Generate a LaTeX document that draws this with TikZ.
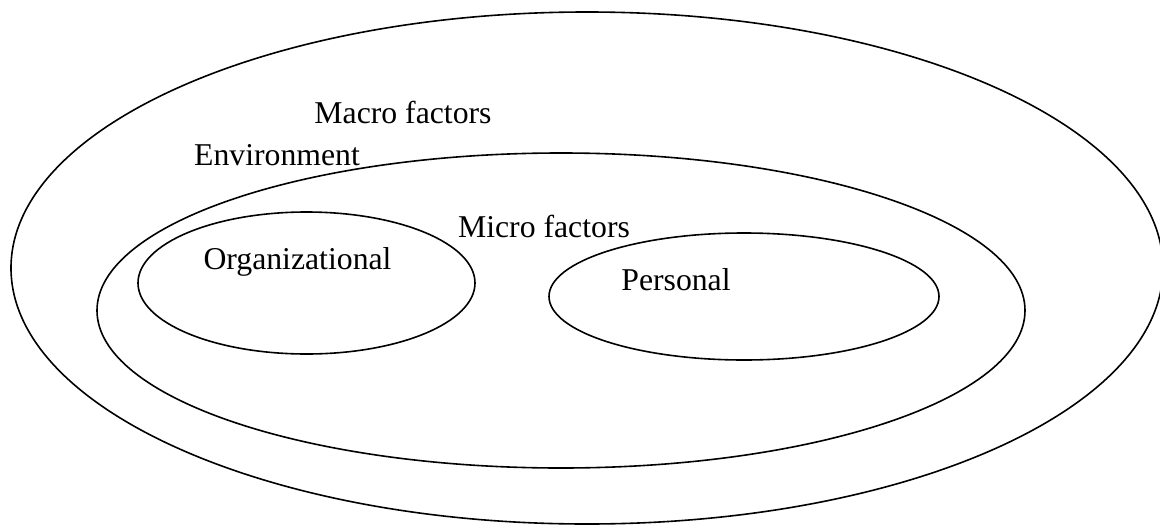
\documentclass[tikz,border=0pt]{standalone}
\usepackage{fontspec}
\setmainfont{Liberation Serif}
\usetikzlibrary{shapes.geometric}
\begin{document}
\begin{tikzpicture}[x=0.75pt,y=-0.75pt,
  ring/.style={draw=black,line width=1.2pt,ellipse,inner sep=0pt,outer sep=0pt},
  lbl/.style={inner sep=0pt,anchor=base,font=\fontsize{23.8}{28}\selectfont}]
\useasboundingbox (0,0) rectangle (1160,525);
\node[ring,minimum width=864pt,minimum height=384pt] (outer) at (587,268) {};
\node[ring,minimum width=696pt,minimum height=236.25pt] (middle) at (561,310.5) {};
\node[ring,minimum width=252.75pt,minimum height=106.5pt] (org) at (306.5,283) {};
\node[ring,minimum width=292.5pt,minimum height=95.25pt] (pers) at (744,296.5) {};
\node[lbl] (macro) at (403,123) {Macro factors};
\node[lbl] (env) at (277,165) {Environment};
\node[lbl] (micro) at (544,237.7) {Micro factors};
\node[lbl] (orgt) at (297.5,269.3) {Organizational};
\node[lbl] (perst) at (676,290) {Personal};
\end{tikzpicture}
\end{document}
